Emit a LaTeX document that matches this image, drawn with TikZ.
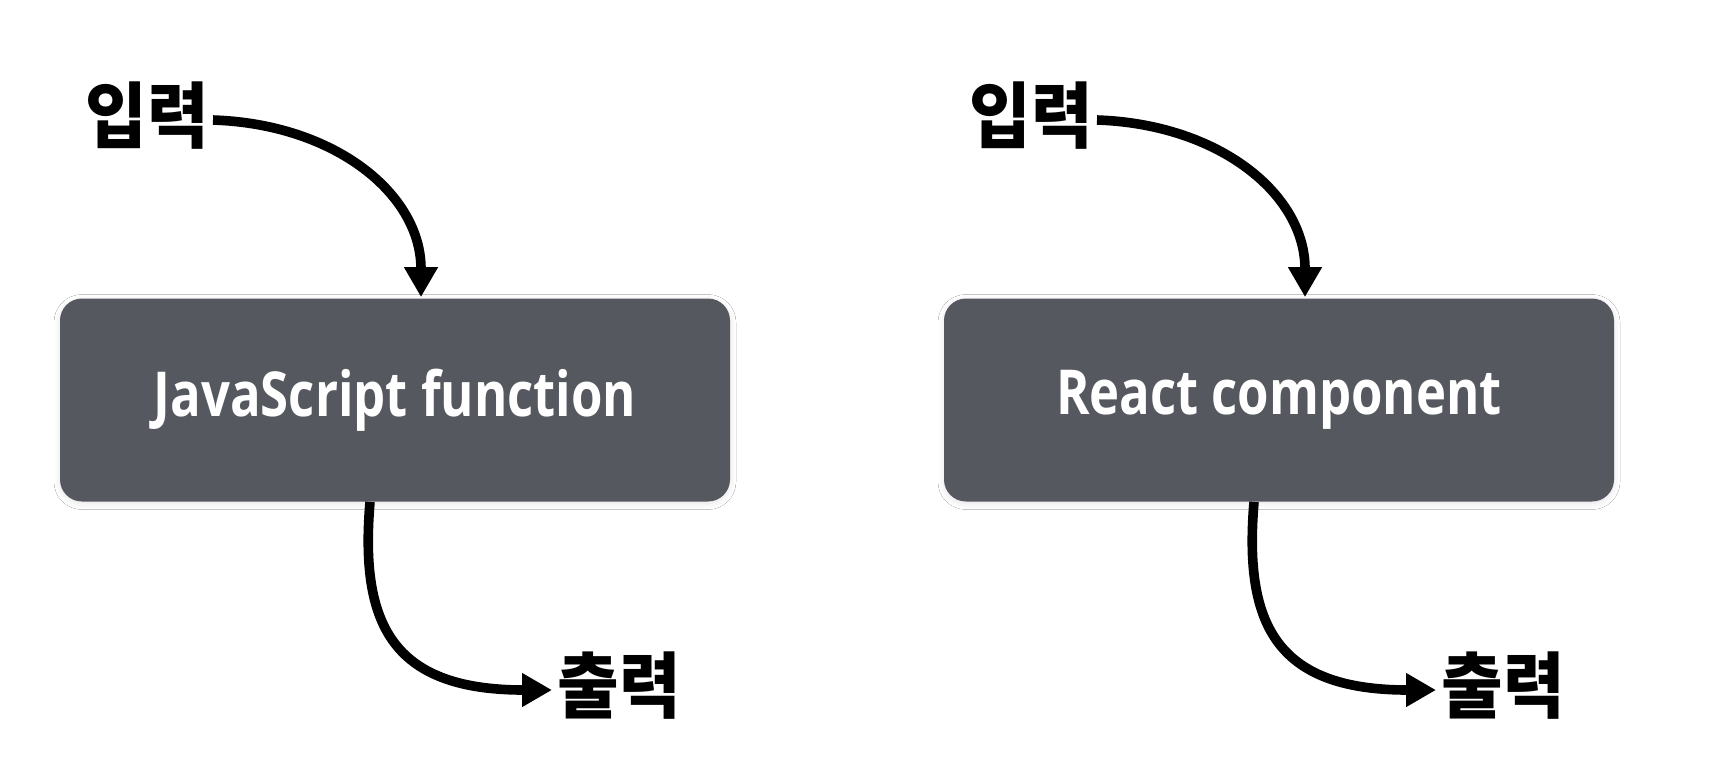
\documentclass[tikz,border=0pt]{standalone}
\usepackage{fontspec}
\usetikzlibrary{arrows.meta,shadows.blur}
\newfontfamily\krlab[FakeStretch=0.93]{Noto Sans CJK KR}
\newfontfamily\boxfont[FakeStretch=0.82]{Open Sans}
\definecolor{boxgray}{HTML}{55585F}
\tikzset{
  x=0.5pt, y=-0.5pt,
  procbox/.style={fill=boxgray, rounded corners=11pt, minimum width=335pt, minimum height=101.5pt,
    inner sep=0pt, text=white, font=\boxfont\bfseries\fontsize{31}{36}\selectfont,
    blur shadow={shadow blur steps=8, shadow xshift=0pt, shadow yshift=-1pt, shadow opacity=10, shadow blur radius=3pt}},
  iolabel/.style={inner sep=0pt, font=\krlab\bfseries\fontsize{36}{40}\selectfont},
  flow/.style={line width=4.8pt, -{Triangle[length=15pt,width=16pt]}},
}
\begin{document}
\begin{tikzpicture}
\useasboundingbox[fill=white] (0,0) rectangle (1722,768);
% left
\node[procbox] (box1) at (395,400) {JavaScript function};
\node[iolabel] (in1) at (147,116) {입력};
\node[iolabel] (out1) at (619,686) {출력};
\coordinate (s1) at (213,120);
\coordinate (e1) at (552,690);
\draw[flow] (s1) .. controls (335,124) and ([xshift=13pt,yshift=52pt]box1.north) .. ([xshift=13pt,yshift=0.5pt]box1.north);
\draw[flow] ([xshift=-12.5pt]box1.south) .. controls ([xshift=-17.5pt,yshift=-60pt]box1.south) and (390,690) .. (e1);
% right
\node[procbox] (box2) at (1279,400) {React component};
\node[iolabel] (in2) at (1031,116) {입력};
\node[iolabel] (out2) at (1503,686) {출력};
\coordinate (s2) at (1097,120);
\coordinate (e2) at (1436,690);
\draw[flow] (s2) .. controls (1219,124) and ([xshift=13pt,yshift=52pt]box2.north) .. ([xshift=13pt,yshift=0.5pt]box2.north);
\draw[flow] ([xshift=-12.5pt]box2.south) .. controls ([xshift=-17.5pt,yshift=-60pt]box2.south) and (1274,690) .. (e2);
\end{tikzpicture}
\end{document}
